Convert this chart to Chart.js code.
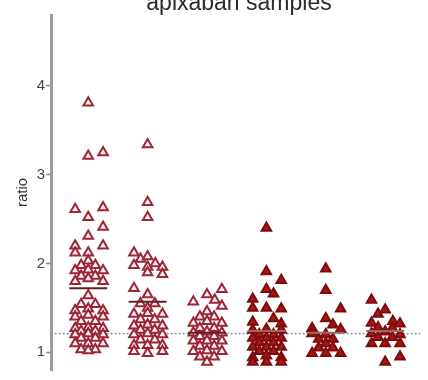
<!DOCTYPE html>
<html>
<head>
<meta charset="utf-8">
<script src="https://cdn.jsdelivr.net/npm/chart.js@4"></script>
<style>
  html, body { margin: 0; padding: 0; background: #fff; }
  #wrap { width: 428px; height: 380px; }
</style>
</head>
<body>
<div id="wrap"><canvas id="chart"></canvas></div>
<script>
// each point: [x jitter within the group, ratio]
const group1 = [
  [0, 3.81], [0, 3.21], [0.25, 3.25],
  [-0.22, 2.61], [0.25, 2.63], [0, 2.52], [0.25, 2.41], [0, 2.31],
  [-0.22, 2.20], [0.25, 2.20], [-0.22, 2.12], [0, 2.12], [0, 2.03],
  [-0.12, 1.98], [0.12, 1.98], [-0.22, 1.92], [0, 1.93], [0.25, 1.92],
  [-0.12, 1.86], [0.12, 1.86], [-0.22, 1.80], [0, 1.83], [0.25, 1.80],
  [0, 1.64], [-0.12, 1.54], [0.12, 1.54],
  [-0.22, 1.47], [0, 1.49], [0.25, 1.47], [-0.22, 1.40], [0, 1.42], [0.25, 1.40],
  [-0.12, 1.35], [0.12, 1.35], [-0.22, 1.27], [0, 1.28], [0.25, 1.27],
  [-0.12, 1.24], [0.12, 1.24], [-0.22, 1.20], [0, 1.21], [0.25, 1.20],
  [-0.12, 1.16], [0.12, 1.16], [-0.22, 1.10], [0, 1.10], [0.25, 1.10],
  [-0.12, 1.03], [0.12, 1.03], [0, 1.02]
];
const group2 = [
  [0, 3.34], [0, 2.69], [0, 2.52],
  [-0.23, 2.12], [-0.12, 2.05], [0, 2.08],
  [-0.23, 1.98], [0, 1.96], [0.13, 2.00], [0.25, 1.96],
  [0, 1.90], [0.25, 1.88], [-0.23, 1.72], [0, 1.65],
  [-0.12, 1.55], [0.12, 1.55], [0, 1.50],
  [-0.23, 1.43], [0, 1.44], [0.25, 1.43], [-0.12, 1.37], [0.12, 1.37],
  [-0.23, 1.30], [0, 1.31], [0.25, 1.30], [-0.12, 1.25], [0.12, 1.25],
  [-0.23, 1.20], [0, 1.21], [0.25, 1.20], [-0.12, 1.14], [0.12, 1.14],
  [-0.23, 1.08], [0, 1.08], [0.25, 1.08], [-0.23, 1.01], [0, 0.99], [0.25, 1.01]
];
const group3 = [
  [-0.23, 1.57], [0, 1.65], [0.25, 1.71], [0.13, 1.59], [0.25, 1.52],
  [0, 1.46], [-0.12, 1.40], [0.12, 1.40],
  [-0.23, 1.33], [0, 1.35], [0.25, 1.33], [-0.12, 1.27], [0.12, 1.27],
  [-0.23, 1.22], [0, 1.23], [0.25, 1.22], [-0.12, 1.18], [0.12, 1.18],
  [-0.23, 1.13], [0, 1.13], [0.25, 1.13], [-0.12, 1.07], [0.12, 1.07],
  [-0.23, 1.01], [0, 1.02], [0.25, 1.01], [-0.12, 0.95], [0.12, 0.95], [0, 0.89]
];
const group4 = [
  [0, 2.40], [0, 1.91], [0.25, 1.81], [0, 1.71], [0.12, 1.66],
  [-0.23, 1.60], [-0.23, 1.50], [0, 1.50], [0.25, 1.49],
  [0.12, 1.38], [-0.23, 1.34], [0.25, 1.32],
  [-0.23, 1.25], [0, 1.26], [0.25, 1.25], [-0.12, 1.20], [0.12, 1.20],
  [-0.23, 1.16], [0, 1.16], [0.25, 1.16], [-0.12, 1.11], [0.12, 1.11],
  [-0.23, 1.06], [0, 1.06], [0.25, 1.06], [-0.12, 1.01], [0.12, 1.01],
  [-0.23, 0.94], [0, 0.96], [0.25, 0.94], [-0.23, 0.89], [0, 0.89], [0.25, 0.89]
];
const group5 = [
  [0, 1.94], [0, 1.70], [0.25, 1.49], [0, 1.38], [0.12, 1.31], [0.25, 1.26],
  [-0.23, 1.27], [-0.23, 1.21], [0, 1.20], [-0.12, 1.15], [0.12, 1.15],
  [0, 1.10], [-0.12, 1.05], [0.12, 1.05], [-0.23, 0.99], [0, 0.99], [0.25, 0.99]
];
const group6 = [
  [-0.23, 1.59], [-0.12, 1.43], [0, 1.48], [-0.23, 1.33], [0.13, 1.35], [0.25, 1.32],
  [-0.12, 1.28], [0.12, 1.27], [0, 1.23], [-0.23, 1.21], [0.25, 1.20],
  [-0.12, 1.17], [0.12, 1.17], [-0.23, 1.10], [0, 1.10], [0.25, 1.10],
  [0, 0.89], [0.25, 0.95]
];
const groups = [group1, group2, group3, group4, group5, group6];
const groupMeans = [1.72, 1.57, 1.22, 1.24, 1.22, 1.24];
const referenceRatio = 1.21;
const yTicks = [1, 2, 3, 4];
const titleText = 'apixaban samples';
const yTitle = 'ratio';

const hollowStyle = { backgroundColor: '#fff4f4', borderColor: '#9a2636' };
const filledStyle = { backgroundColor: '#ad1515', borderColor: '#7c0c0c' };

const datasets = [];

datasets.push({
  type: 'line',
  data: [{ x: 0.3, y: referenceRatio }, { x: 6.7, y: referenceRatio }],
  borderColor: '#8795aa',
  borderWidth: 1.5,
  borderDash: [2, 2],
  pointRadius: 0,
  order: 10
});

groups.forEach((pts, i) => {
  const style = i < 3 ? hollowStyle : filledStyle;
  datasets.push({
    type: 'scatter',
    data: pts.map(([dx, v]) => ({ x: i + 1 + dx, y: v })),
    pointStyle: 'triangle',
    pointRadius: 5.5,
    pointBorderWidth: 2,
    backgroundColor: style.backgroundColor,
    borderColor: style.borderColor,
    order: 5
  });
});

groupMeans.forEach((m, i) => {
  datasets.push({
    type: 'line',
    data: [{ x: i + 1 - 0.32, y: m }, { x: i + 1 + 0.32, y: m }],
    borderColor: i < 3 ? '#5e2226' : '#9a6a6a',
    borderWidth: 2,
    pointRadius: 0,
    order: 1
  });
});

const titlePlugin = {
  id: 'topTitle',
  afterDraw(chart) {
    const ctx = chart.ctx;
    ctx.save();
    ctx.font = '23px "Liberation Sans", Arial, sans-serif';
    ctx.fillStyle = '#2a2a2a';
    ctx.textAlign = 'center';
    ctx.textBaseline = 'alphabetic';
    ctx.fillText(titleText, 239, 10);
    ctx.restore();
  }
};

new Chart(document.getElementById('chart'), {
  data: { datasets },
  options: {
    responsive: true,
    maintainAspectRatio: false,
    animation: false,
    layout: { padding: { top: 15, right: 0, bottom: 0, left: 0 } },
    plugins: { legend: { display: false }, tooltip: { enabled: false } },
    scales: {
      x: {
        type: 'linear',
        min: 0.373,
        max: 6.595,
        display: false
      },
      y: {
        type: 'linear',
        min: 0.8,
        max: 4.8,
        afterBuildTicks: (scale) => { scale.ticks = yTicks.map((v) => ({ value: v })); },
        afterFit: (scale) => { scale.width = 51; },
        ticks: {
          color: '#444',
          font: { family: '"Liberation Sans", Arial, sans-serif', size: 15 },
          padding: 1
        },
        grid: { drawOnChartArea: false, drawTicks: true, tickLength: 5, color: '#888', tickWidth: 1.5 },
        border: { display: true, color: '#9c9c9c', width: 3 },
        title: {
          display: true,
          text: yTitle,
          color: '#333',
          font: { family: '"Liberation Sans", Arial, sans-serif', size: 15 },
          padding: { top: 14, bottom: 0 }
        }
      }
    }
  },
  plugins: [titlePlugin]
});
</script>
</body>
</html>
